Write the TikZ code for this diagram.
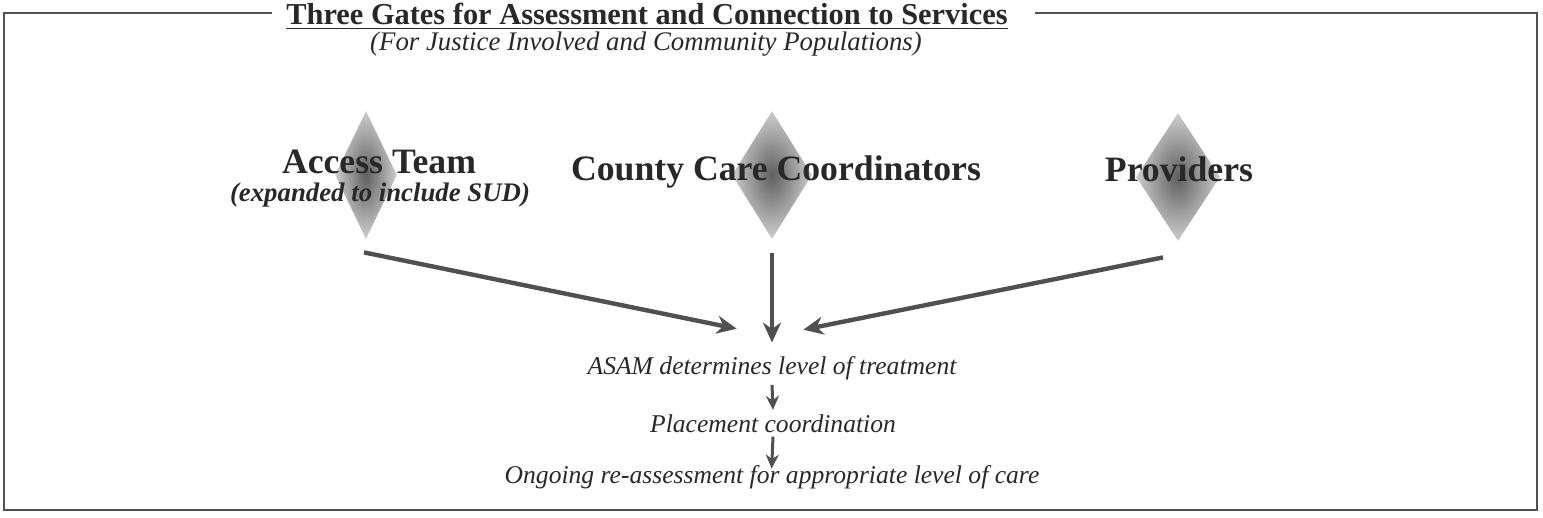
\documentclass[tikz,border=0pt]{standalone}
\usepackage{fontspec}
\setmainfont{Liberation Serif}
\usetikzlibrary{shapes.geometric,arrows.meta}

\definecolor{inkgray}{RGB}{40,40,40}
\definecolor{linegray}{RGB}{80,80,80}
\definecolor{gatedark}{RGB}{95,95,95}
\definecolor{gatelight}{RGB}{205,205,205}

\tikzset{
  gate/.style={diamond, draw=none, inner sep=0pt, minimum width=36pt, minimum height=64pt,
    shading=radial, inner color=gatedark, outer color=gatelight},
  gatelabel/.style={anchor=base, text=inkgray, font=\fontsize{17.85}{20}\selectfont\bfseries},
  steptext/.style={text=inkgray, inner sep=2pt, font=\fontsize{12.8}{15}\selectfont\itshape},
  flow/.style={draw=linegray, line width=2.2pt, -{Stealth[length=10pt,width=9pt]}},
  smallflow/.style={draw=linegray, line width=1.5pt, -{Stealth[length=7pt,width=6.5pt]}},
  frame/.style={draw=linegray, line width=1pt}
}

\begin{document}
\begin{tikzpicture}[x=0.5pt, y=-0.5pt]
\useasboundingbox (0,0) rectangle (1543,518);

% heading
\node[anchor=base, inner sep=0pt, text=inkgray, font=\fontsize{15.2}{18}\selectfont\bfseries]
  (ttl) at (647,25) {\underline{Three Gates for Assessment and Connection to Services}};
\node[anchor=base, inner sep=0pt, text=inkgray, font=\fontsize{13.4}{16}\selectfont\itshape]
  (subttl) at (646,51) {(For Justice Involved and Community Populations)};

\draw[frame] (272,13) -- (4,13) -- (4,510) -- (1537,510) -- (1537,13) -- (1035,13);

% the three gates
\node[gate, minimum width=31pt] (accgate) at (366,175) {};
\node[gate, minimum width=40pt] (ccgate) at (772,175) {};
\node[gate, minimum width=42pt] (provgate) at (1178,177) {};

\node[gatelabel] (acc) at (379,174) {Access Team};
\node[anchor=base, text=inkgray, inner sep=1pt, font=\fontsize{13.4}{16}\selectfont\bfseries\itshape]
  (accsub) at (380,202) {(expanded to include SUD)};
\node[gatelabel] (cc) at (776,181) {County Care Coordinators};
\node[gatelabel] (prov) at (1179,182) {Providers};

% steps
\node[steptext, anchor=base] (asam) at (772,375) {ASAM determines level of treatment};
\node[steptext, anchor=base] (place) at (773,432) {Placement coordination};
\node[steptext, anchor=base] (ongo) at (772,483) {Ongoing re-assessment for appropriate level of care};

\coordinate (meet) at (772,336);
\draw[flow, shorten >=18pt] ([xshift=-1pt, yshift=-6.5pt]accgate.south) -- (meet);
\draw[flow, shorten >=16pt] ([xshift=-7.5pt, yshift=-8pt]provgate.south) -- (meet);
\draw[flow, shorten >=5pt] ([yshift=-7pt]ccgate.south) -- (asam.north);

\draw[smallflow] (asam.south) -- (place.north);
\draw[smallflow, shorten >=-4pt] (place.south) -- (ongo.north);

\end{tikzpicture}
\end{document}
